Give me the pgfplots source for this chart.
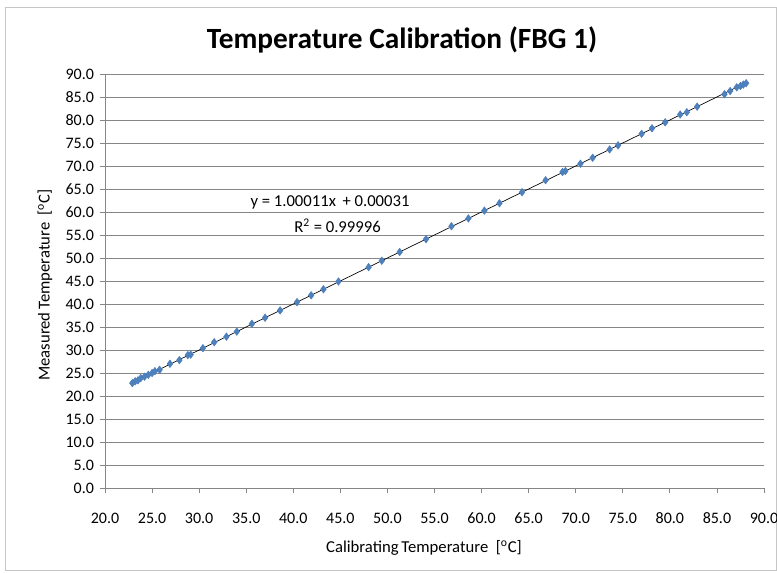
\documentclass[border=0pt]{standalone}
\usepackage{pgfplots}
\pgfplotsset{compat=1.18}
\usepackage{fontspec}
\setmainfont{Carlito}
\definecolor{gridc}{HTML}{868686}
\definecolor{mk}{HTML}{4A7EBB}
\definecolor{mkf}{HTML}{4F81BD}
\begin{document}
\begin{tikzpicture}[x=0.75pt,y=0.75pt]
\path[use as bounding box] (0,0) rectangle (777,573);
\draw[gray!45, line width=0.6pt] (5,3) rectangle (776,566);
\node[font=\fontsize{22}{26}\selectfont\bfseries] at (402,533) {Temperature Calibration (FBG 1)};
\node[font=\fontsize{12.5}{15}\selectfont] at (424,25) {Calibrating\,Temperature\ \ [\textsuperscript{o}C]};
\node[font=\fontsize{12.5}{15}\selectfont, rotate=90] at (45,288) {Measured\,Temperature\ \ [\textsuperscript{o}C]};
\begin{axis}[
  at={(78.75pt,63.75pt)}, anchor=south west,
  width=494.25pt, height=310.5pt, scale only axis,
  xmin=20, xmax=90, ymin=0, ymax=90,
  xtick={20,25,...,90}, ytick={0,5,...,90},
  axis x line*=bottom, axis y line*=left,
  x axis line style={-}, y axis line style={-},
  axis line style={gridc, line width=0.6pt},
  ymajorgrids, grid style={gridc, line width=0.6pt},
  tick align=outside, major tick length=3.75pt,
  tick style={gridc, line width=0.6pt},
  /pgf/number format/.cd, fixed, fixed zerofill, precision=1, assume math mode=true, /pgfplots/.cd,
  ticklabel style={font=\fontsize{12}{14}\selectfont},
  xticklabel style={yshift=-11.5pt},
  yticklabel style={xshift=-1pt},
  clip=false,
]
\addplot[black, line width=0.5pt] coordinates {(22.9,22.903) (88.2,88.210)};
\addplot[only marks, mark=diamond*, mark size=2.8pt, mark options={fill=mkf, draw=mk}] coordinates {
(22.9,22.8) (23.2,23.2) (23.5,23.4) (23.8,23.9) (24.2,24.2) (24.6,24.6)
(25.0,25.0) (25.3,25.4) (25.8,25.7) (26.9,27.0) (27.9,27.8) (28.8,28.9)
(29.1,29.0) (30.4,30.4) (31.6,31.7) (32.9,32.9) (34.0,34.0) (35.6,35.7)
(37.0,37.0) (38.6,38.6) (40.4,40.4) (41.9,41.9) (43.2,43.2) (44.8,44.9)
(48.0,48.0) (49.4,49.4) (51.3,51.3) (54.1,54.1) (56.8,56.9) (58.6,58.6)
(60.3,60.3) (61.9,61.9) (64.3,64.3) (66.8,66.9) (68.6,68.7) (68.9,68.9)
(70.5,70.5) (71.8,71.8) (73.6,73.6) (74.5,74.5) (77.0,77.0) (78.1,78.2)
(79.5,79.5) (81.1,81.2) (81.8,81.7) (82.9,82.9) (85.8,85.6) (86.4,86.3)
(87.1,87.1) (87.5,87.4) (87.8,87.7) (88.1,88.0)
};
\node[font=\fontsize{12.5}{15}\selectfont] at (axis cs:43.9,62.0) {y = 1.00011x\, + 0.00031};
\node[font=\fontsize{12.5}{15}\selectfont] at (axis cs:44.7,57.0) {R\textsuperscript{2} = 0.99996};
\end{axis}
\end{tikzpicture}
\end{document}
